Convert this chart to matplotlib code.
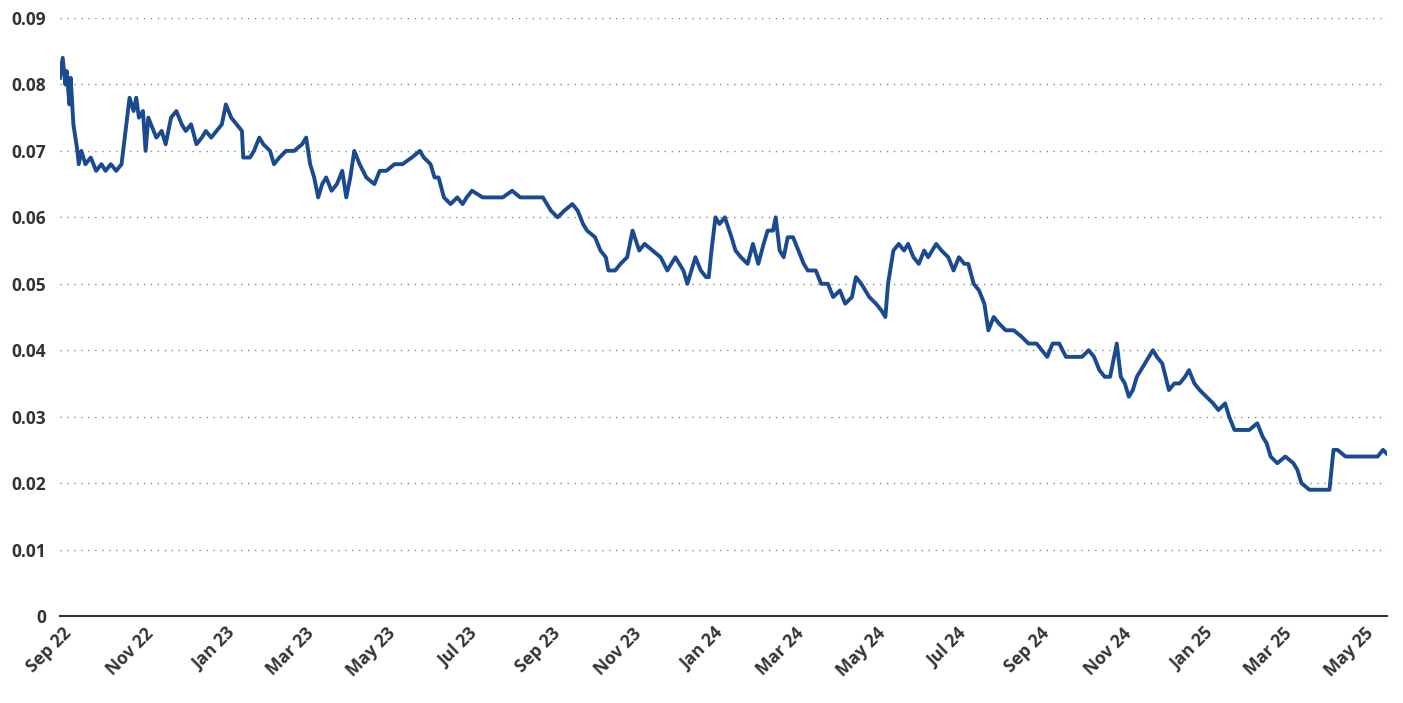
import numpy as np
import pandas as pd
import matplotlib
matplotlib.use("Agg")
import matplotlib.pyplot as plt
import matplotlib.dates as mdates

start_date = "2022-09-01"
day_offsets = [-2,0,2,3,5,6,8,11,12,14,17,21,25,29,32,36,40,44,47,50,53,55,57,60,62,64,66,70,74,77,81,85,89,92,96,100,104,107,111,115,119,122,126,130,134,135,140,143,147,150,155,158,162,167,173,179,182,185,188,191,194,197,201,205,209,212,215,218,222,227,233,237,242,248,254,261,267,270,275,278,281,285,290,295,299,302,306,314,321,329,336,342,347,353,359,365,370,375,381,385,389,392,398,402,406,408,413,417,422,426,431,435,441,447,452,455,458,464,467,473,477,481,483,485,488,491,495,500,503,507,512,516,520,524,527,531,533,536,539,542,546,550,554,557,563,567,572,576,581,585,590,593,597,600,603,608,612,615,617,621,625,629,632,636,640,644,647,653,657,662,666,670,674,677,681,685,689,692,696,700,705,711,717,722,728,732,736,740,745,750,756,762,767,771,775,779,783,788,791,794,797,800,803,809,815,818,822,827,831,835,839,842,846,850,855,860,864,869,872,876,882,887,893,897,900,903,908,914,920,923,926,932,938,942,947,950,953,959,965,970,974,977,983,987,992]
values = [0.081,0.084,0.080,0.082,0.077,0.081,0.074,0.070,0.068,0.070,0.068,0.069,0.067,0.068,0.067,0.068,0.067,0.068,0.073,0.078,0.076,0.078,0.075,0.076,0.070,0.075,0.074,0.072,0.073,0.071,0.075,0.076,0.074,0.073,0.074,0.071,0.072,0.073,0.072,0.073,0.074,0.077,0.075,0.074,0.073,0.069,0.069,0.070,0.072,0.071,0.070,0.068,0.069,0.070,0.070,0.071,0.072,0.068,0.066,0.063,0.065,0.066,0.064,0.065,0.067,0.063,0.066,0.070,0.068,0.066,0.065,0.067,0.067,0.068,0.068,0.069,0.070,0.069,0.068,0.066,0.066,0.063,0.062,0.063,0.062,0.063,0.064,0.063,0.063,0.063,0.064,0.063,0.063,0.063,0.063,0.061,0.060,0.061,0.062,0.061,0.059,0.058,0.057,0.055,0.054,0.052,0.052,0.053,0.054,0.058,0.055,0.056,0.055,0.054,0.052,0.053,0.054,0.052,0.050,0.054,0.052,0.051,0.051,0.055,0.060,0.059,0.060,0.057,0.055,0.054,0.053,0.056,0.053,0.056,0.058,0.058,0.060,0.055,0.054,0.057,0.057,0.055,0.053,0.052,0.052,0.050,0.050,0.048,0.049,0.047,0.048,0.051,0.050,0.049,0.048,0.047,0.046,0.045,0.050,0.055,0.056,0.055,0.056,0.054,0.053,0.055,0.054,0.056,0.055,0.054,0.052,0.054,0.053,0.053,0.050,0.049,0.047,0.043,0.045,0.044,0.043,0.043,0.042,0.041,0.041,0.040,0.039,0.041,0.041,0.039,0.039,0.039,0.040,0.039,0.037,0.036,0.036,0.041,0.036,0.035,0.033,0.034,0.036,0.038,0.040,0.039,0.038,0.034,0.035,0.035,0.036,0.037,0.035,0.034,0.033,0.032,0.031,0.032,0.030,0.028,0.028,0.028,0.029,0.027,0.026,0.024,0.023,0.024,0.023,0.022,0.020,0.019,0.019,0.019,0.019,0.025,0.025,0.024,0.024,0.024,0.024,0.024,0.024,0.025,0.024]

dates = pd.Timestamp(start_date) + pd.to_timedelta(day_offsets, unit="D")

plt.rcParams["font.family"] = "Open Sans"
fig = plt.figure(figsize=(14.03, 7.03), dpi=100)
ax = fig.add_axes([60/1403, 87/703, 1327/1403, 598/703])

ax.plot(dates, values, color="#1a4a8f", lw=2.8, solid_joinstyle="round")

ax.set_ylim(0, 0.09)
ax.set_yticks(np.arange(0, 0.091, 0.01))
ax.set_yticklabels(["0"] + ["%.2f" % v for v in np.arange(0.01, 0.091, 0.01)])
ax.set_xlim(pd.Timestamp("2022-08-30"), pd.Timestamp("2025-05-18"))
ax.xaxis.set_major_locator(mdates.MonthLocator(bymonth=[1, 3, 5, 7, 9, 11]))
ax.xaxis.set_major_formatter(mdates.DateFormatter("%b %y"))

ax.grid(axis="y", linestyle=(0, (1, 4)), color="#888888", lw=1)
for s in ["left", "right", "top"]:
    ax.spines[s].set_visible(False)
ax.spines["bottom"].set_color("#333333")
ax.spines["bottom"].set_linewidth(1.5)
ax.tick_params(axis="y", length=0, pad=10, labelsize=12.5, labelcolor="#333333")
ax.tick_params(axis="x", length=0, pad=6, labelsize=12.5, labelcolor="#333333")
for lbl in ax.get_xticklabels():
    lbl.set_rotation(45)
    lbl.set_ha("right")
    lbl.set_rotation_mode("anchor")
for lbl in ax.get_xticklabels() + ax.get_yticklabels():
    lbl.set_fontweight("bold")

fig.savefig("out.png", dpi=100)
